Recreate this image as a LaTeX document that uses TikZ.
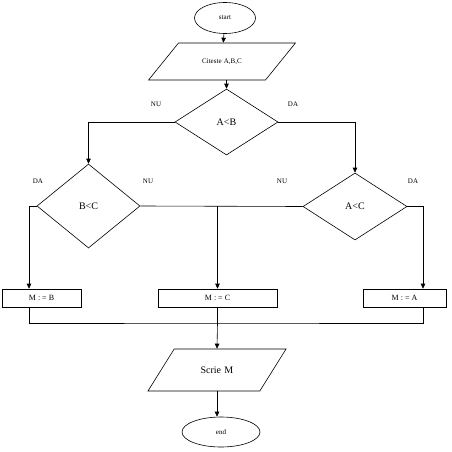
\documentclass[tikz,border=0pt]{standalone}
\usepackage{fontspec}
\setmainfont{Liberation Serif}
\usetikzlibrary{shapes.geometric,arrows.meta}

\begin{document}
\begin{tikzpicture}[x=1pt,y=-1pt,line width=0.6pt,
    >={Triangle[width=4.5pt,length=5pt]},
    term/.style={ellipse,draw,inner sep=0pt},
    io/.style={trapezium,draw,inner sep=0pt,align=center},
    test/.style={diamond,draw,inner sep=0pt,font=\fontsize{10}{10}\selectfont},
    op/.style={rectangle,draw,inner sep=0pt,minimum height=18pt,font=\fontsize{8}{8}\selectfont},
    lbl/.style={font=\fontsize{7}{7}\selectfont}]
    \useasboundingbox (0,0) rectangle (452,452);

    % start / read
    \node [term,minimum width=61pt,minimum height=31pt,font=\fontsize{7}{7}\selectfont] (start) at (225,18) {start};
    \node [io,trapezium left angle=51,trapezium right angle=129,text width=87pt,text height=20.8pt,text depth=16.2pt,
        font=\fontsize{7}{7}\selectfont] (cit) at (222,61.5) {Citeste A,B,C};

    % tests
    \node [test,minimum width=103pt,minimum height=66pt] (ab) at (226.5,122) {A<B};
    \node [test,minimum width=103pt,minimum height=84pt] (bc) at (88.5,206) {B<C};
    \node [test,minimum width=104pt,minimum height=67pt] (ac) at (355,206.5) {A<C};

    % assignments
    \node [op,minimum width=79pt] (mb) at (41.5,298) {M : = B};
    \node [op,minimum width=119pt] (mc) at (217.5,298) {M : = C};
    \node [op,minimum width=83pt] (ma) at (404.5,298) {M : = A};

    % write / end
    \node [io,trapezium left angle=58,trapezium right angle=122,text width=85.6pt,text height=24.3pt,text depth=17.7pt,
        font=\fontsize{10}{10}\selectfont] (scr) at (217,370) {Scrie M};
    \node [term,minimum width=78pt,minimum height=30pt,font=\fontsize{7}{7}\selectfont] (end) at (221,432) {end};

    % branch labels
    \node [lbl] (nu1) at (156,104) {NU};
    \node [lbl] (da1) at (293,104) {DA};
    \node [lbl] (da2) at (38,181) {DA};
    \node [lbl] (nu2) at (148,181) {NU};
    \node [lbl] (nu3) at (282,181) {NU};
    \node [lbl] (da3) at (413,181) {DA};

    % bend points
    \coordinate (jb) at (29,0);
    \coordinate (ja) at (423,0);
    \coordinate (mrg) at (217.5,323);

    \draw [->] (start) -- (cit);
    \draw [->] (cit.south -| ab.north) -- (ab.north);

    \draw [->] (ab.west) -| (bc.north);
    \draw [->] (ab.east) -| (ac.north);

    \draw [->] (bc.west) -| (jb |- mb.north);
    \draw (bc.east) -- (ac.west);
    \draw [->] (mc.north |- bc.east) -- (mc.north);
    \draw [->] (ac.east) -| (ja |- ma.north);

    \draw (jb |- mb.south) |- (mrg) -| (ja |- ma.south);
    \draw (mc.south) -- (mrg);
    \draw [->] (mrg) -- (scr.north);
    \draw [->] (scr.south) -- (scr.south |- end.north);
\end{tikzpicture}
\end{document}
